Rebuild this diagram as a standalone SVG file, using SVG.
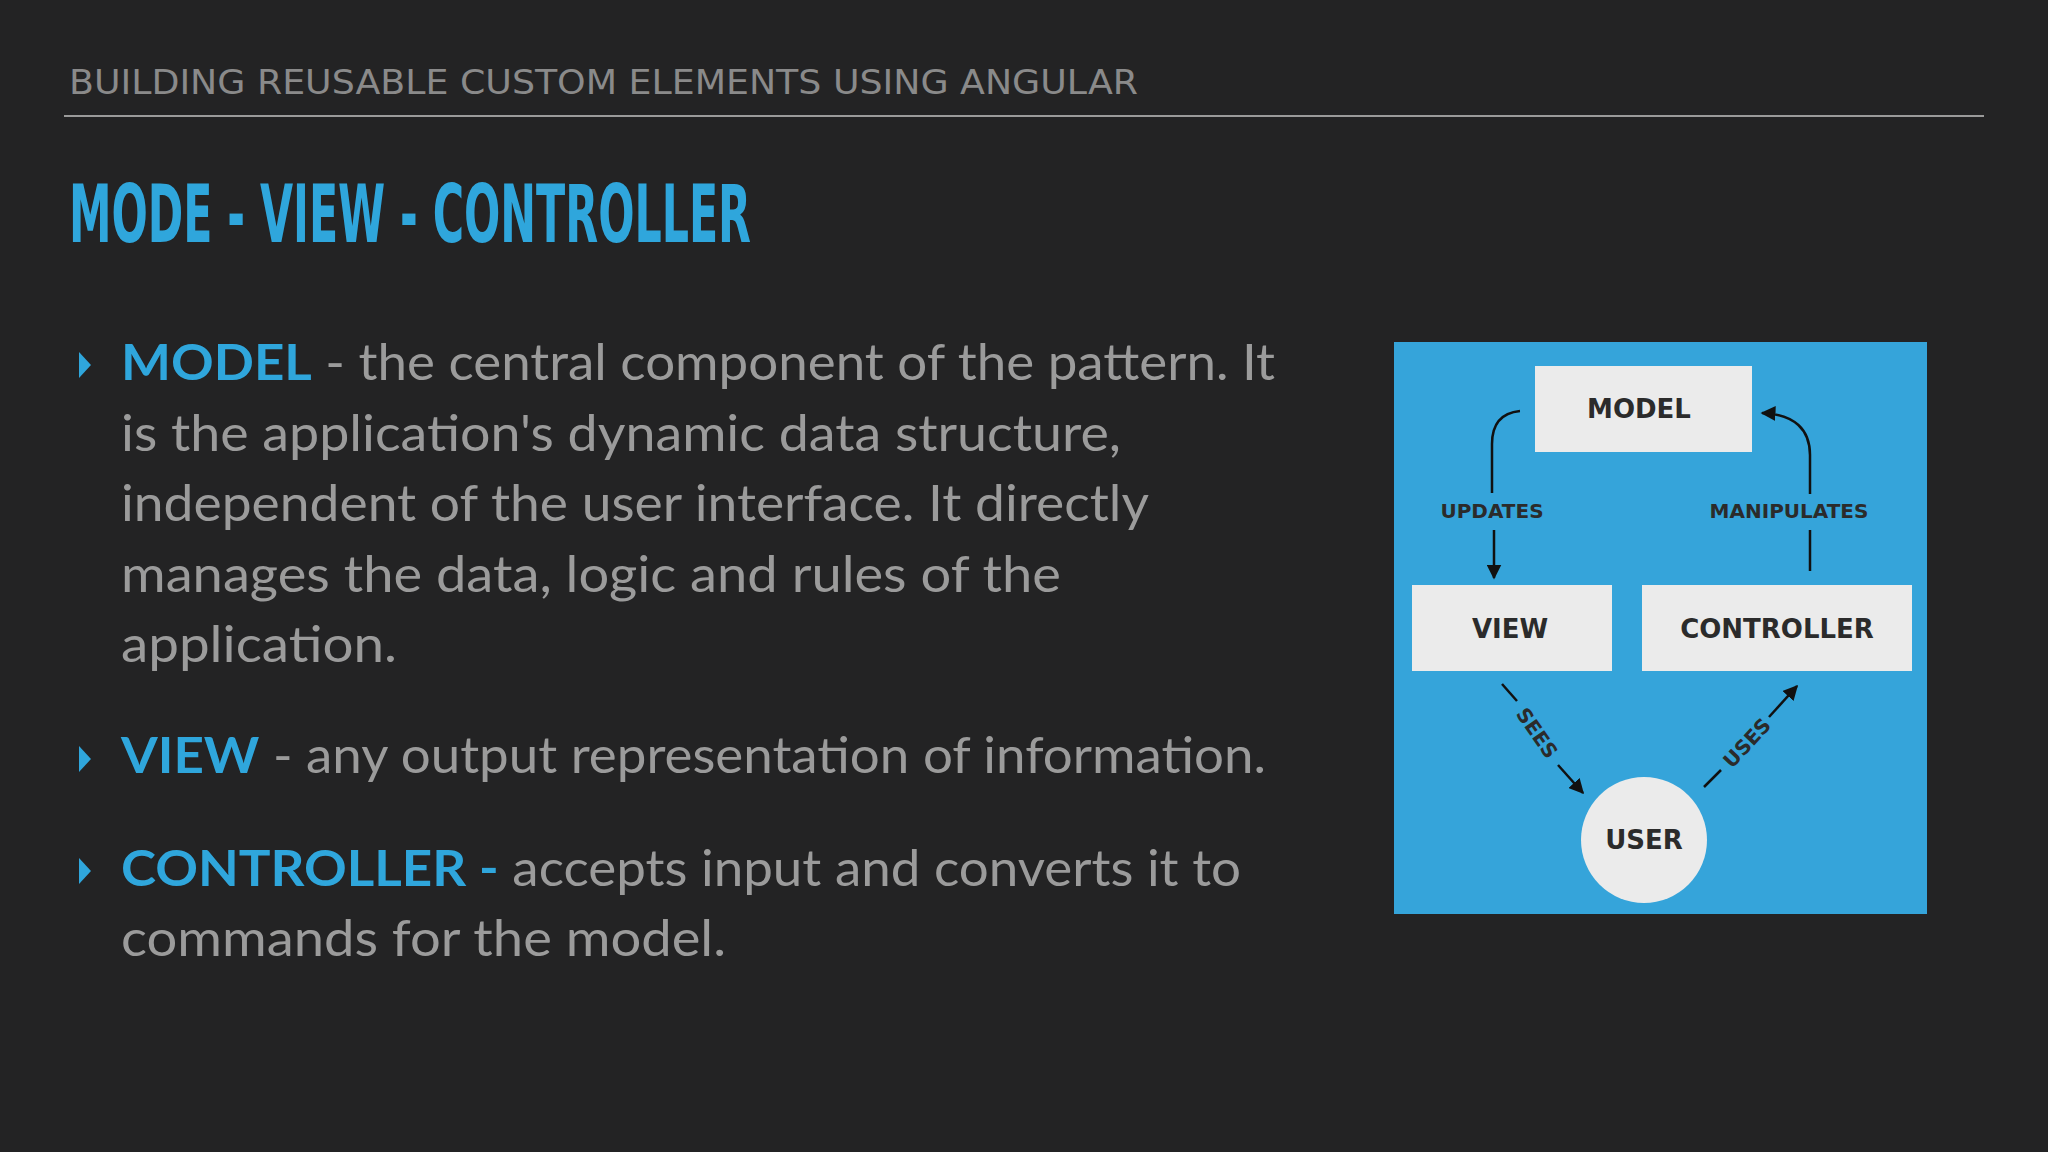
<svg xmlns="http://www.w3.org/2000/svg" width="2048" height="1152" viewBox="0 0 2048 1152">
<defs>
<style>
.hdr{font-family:"DejaVu Sans Condensed","DejaVu Sans",sans-serif;fill:#8a8a8a;font-size:34px}
.ttl{font-family:"DejaVu Sans Condensed","DejaVu Sans",sans-serif;fill:#2fa6dc;font-size:80px;font-weight:bold}
.body{font-family:Lato,"Open Sans",sans-serif;fill:#9b9b9b;font-size:50px}
.kw{fill:#2fa6dc;font-weight:bold}
.bul{fill:#2fa6dc}
.box{fill:#ebebeb}
.lbl{font-family:"DejaVu Sans",sans-serif;font-weight:bold;fill:#2b2b2b;text-anchor:middle}
.n{font-size:26px}
.e{font-size:20px}
.ln{fill:none;stroke:#111;stroke-width:2.5}
</style>
<marker id="ah" viewBox="0 0 10 10" refX="9" refY="5" markerWidth="6" markerHeight="6" orient="auto"><path d="M0,0L10,5L0,10z" fill="#111"/></marker>
</defs>
<rect width="2048" height="1152" fill="#232324"/>
<text class="hdr" x="69" y="94" textLength="1069" lengthAdjust="spacingAndGlyphs">BUILDING REUSABLE CUSTOM ELEMENTS USING ANGULAR</text>
<line x1="64" y1="116" x2="1984" y2="116" stroke="#9a9a9a" stroke-width="2"/>
<text class="ttl" x="69" y="242" textLength="682" lengthAdjust="spacingAndGlyphs">MODE - VIEW - CONTROLLER</text>
<g class="bul">
<path d="M79,352L91,365L79,378z"/>
<path d="M79,746L91,759L79,772z"/>
<path d="M79,858L91,871L79,884z"/>
</g>
<g class="body">
<text x="121" y="380" textLength="1154" lengthAdjust="spacingAndGlyphs"><tspan class="kw">MODEL</tspan> - the central component of the pattern. It</text>
<text x="121" y="451" textLength="1000" lengthAdjust="spacingAndGlyphs">is the application's dynamic data structure,</text>
<text x="121" y="521" textLength="1028" lengthAdjust="spacingAndGlyphs">independent of the user interface. It directly</text>
<text x="121" y="592" textLength="940" lengthAdjust="spacingAndGlyphs">manages the data, logic and rules of the</text>
<text x="121" y="662" textLength="276" lengthAdjust="spacingAndGlyphs">application.</text>
<text x="121" y="773" textLength="1145" lengthAdjust="spacingAndGlyphs"><tspan class="kw">VIEW</tspan> - any output representation of information.</text>
<text x="121" y="886" textLength="1120" lengthAdjust="spacingAndGlyphs"><tspan class="kw">CONTROLLER -</tspan> accepts input and converts it to</text>
<text x="121" y="956" textLength="605" lengthAdjust="spacingAndGlyphs">commands for the model.</text>
</g>
<rect x="1394" y="342" width="533" height="572" fill="#35a4da"/>
<g id="model"><rect class="box" x="1535" y="366" width="217" height="86"/><text class="lbl n" x="1639" y="418">MODEL</text></g>
<g id="view"><rect class="box" x="1412" y="585" width="200" height="86"/><text class="lbl n" x="1510" y="638">VIEW</text></g>
<g id="controller"><rect class="box" x="1642" y="585" width="270" height="86"/><text class="lbl n" x="1777" y="638">CONTROLLER</text></g>
<g id="user"><circle cx="1644" cy="840" r="63" fill="#ebebeb"/><text class="lbl n" x="1644" y="849">USER</text></g>
<g id="connectors">
<path class="ln" d="M1520,411C1500,413 1492,425 1492,444L1492,493"/>
<path class="ln" d="M1494,530L1494,578" marker-end="url(#ah)"/>
<text class="lbl e" x="1492" y="518">UPDATES</text>
<path class="ln" d="M1810,571L1810,530"/>
<path class="ln" d="M1810,494L1810,455C1810,430 1795,414 1762,413" marker-end="url(#ah)"/>
<text class="lbl e" x="1789" y="518">MANIPULATES</text>
<path class="ln" d="M1502,684L1517,701"/>
<path class="ln" d="M1558,765L1583,793" marker-end="url(#ah)"/>
<text class="lbl e" transform="translate(1537,733) rotate(55)" y="7">SEES</text>
<path class="ln" d="M1704,787L1721,770"/>
<path class="ln" d="M1769,717L1797,686" marker-end="url(#ah)"/>
<text class="lbl e" transform="translate(1747,743) rotate(-47)" y="7">USES</text>
</g>
</svg>
